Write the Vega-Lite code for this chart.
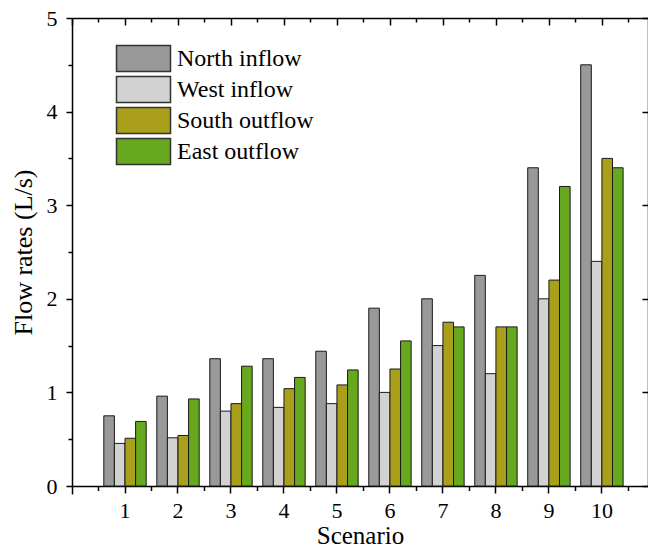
{
  "$schema": "https://vega.github.io/schema/vega-lite/v6.json",
  "autosize": {"type": "none"},
  "padding": {"left": 72, "top": 18, "right": 0, "bottom": 64},
  "width": 576,
  "height": 468,
  "background": "white",
  "data": {
    "values": [
      {"Scenario": 1, "Series": "North inflow", "Flow": 0.75},
      {"Scenario": 1, "Series": "West inflow", "Flow": 0.455},
      {"Scenario": 1, "Series": "South outflow", "Flow": 0.51},
      {"Scenario": 1, "Series": "East outflow", "Flow": 0.69},
      {"Scenario": 2, "Series": "North inflow", "Flow": 0.96},
      {"Scenario": 2, "Series": "West inflow", "Flow": 0.515},
      {"Scenario": 2, "Series": "South outflow", "Flow": 0.54},
      {"Scenario": 2, "Series": "East outflow", "Flow": 0.93},
      {"Scenario": 3, "Series": "North inflow", "Flow": 1.36},
      {"Scenario": 3, "Series": "West inflow", "Flow": 0.8},
      {"Scenario": 3, "Series": "South outflow", "Flow": 0.88},
      {"Scenario": 3, "Series": "East outflow", "Flow": 1.28},
      {"Scenario": 4, "Series": "North inflow", "Flow": 1.36},
      {"Scenario": 4, "Series": "West inflow", "Flow": 0.84},
      {"Scenario": 4, "Series": "South outflow", "Flow": 1.04},
      {"Scenario": 4, "Series": "East outflow", "Flow": 1.16},
      {"Scenario": 5, "Series": "North inflow", "Flow": 1.44},
      {"Scenario": 5, "Series": "West inflow", "Flow": 0.88},
      {"Scenario": 5, "Series": "South outflow", "Flow": 1.08},
      {"Scenario": 5, "Series": "East outflow", "Flow": 1.24},
      {"Scenario": 6, "Series": "North inflow", "Flow": 1.9},
      {"Scenario": 6, "Series": "West inflow", "Flow": 1.0},
      {"Scenario": 6, "Series": "South outflow", "Flow": 1.25},
      {"Scenario": 6, "Series": "East outflow", "Flow": 1.55},
      {"Scenario": 7, "Series": "North inflow", "Flow": 2.0},
      {"Scenario": 7, "Series": "West inflow", "Flow": 1.5},
      {"Scenario": 7, "Series": "South outflow", "Flow": 1.75},
      {"Scenario": 7, "Series": "East outflow", "Flow": 1.7},
      {"Scenario": 8, "Series": "North inflow", "Flow": 2.25},
      {"Scenario": 8, "Series": "West inflow", "Flow": 1.2},
      {"Scenario": 8, "Series": "South outflow", "Flow": 1.7},
      {"Scenario": 8, "Series": "East outflow", "Flow": 1.7},
      {"Scenario": 9, "Series": "North inflow", "Flow": 3.4},
      {"Scenario": 9, "Series": "West inflow", "Flow": 2.0},
      {"Scenario": 9, "Series": "South outflow", "Flow": 2.2},
      {"Scenario": 9, "Series": "East outflow", "Flow": 3.2},
      {"Scenario": 10, "Series": "North inflow", "Flow": 4.5},
      {"Scenario": 10, "Series": "West inflow", "Flow": 2.4},
      {"Scenario": 10, "Series": "South outflow", "Flow": 3.5},
      {"Scenario": 10, "Series": "East outflow", "Flow": 3.4}
    ]
  },
  "layer": [
    {
      "mark": {"type": "bar", "stroke": "#1a1a1a", "strokeWidth": 1},
      "encoding": {
        "x": {
          "field": "Scenario", "type": "ordinal",
          "scale": {"type": "band", "paddingInner": 0.2, "paddingOuter": 0.535, "align": 0.561},
          "axis": {"orient": "bottom", "labelAngle": 0, "tickSize": 7, "labelPadding": 7, "labelFont": "Liberation Serif", "labelFontSize": 22, "title": "Scenario", "titleFont": "Liberation Serif", "titleFontSize": 25, "titlePadding": 2}
        },
        "xOffset": {
          "field": "Series", "type": "nominal",
          "sort": ["North inflow", "West inflow", "South outflow", "East outflow"]
        },
        "y": {
          "field": "Flow", "type": "quantitative",
          "scale": {"domain": [0, 5], "nice": false, "zero": true},
          "axis": {
            "orient": "left",
            "values": [0, 0.5, 1, 1.5, 2, 2.5, 3, 3.5, 4, 4.5, 5],
            "labelExpr": "datum.value % 1 === 0 ? format(datum.value, 'd') : ''",
            "tickSize": {"condition": {"test": "datum.value % 1 === 0", "value": 6}, "value": 4},
            "labelPadding": 9, "labelFont": "Liberation Serif", "labelFontSize": 22,
            "title": "Flow rates (L/s)", "titleFont": "Liberation Serif", "titleFontSize": 26, "titlePadding": 10
          }
        },
        "color": {
          "field": "Series", "type": "nominal",
          "scale": {
            "domain": ["North inflow", "West inflow", "South outflow", "East outflow"],
            "range": ["#999999", "#d2d2d2", "#a99f1b", "#66a81e"]
          },
          "legend": {
            "orient": "none", "legendX": 57, "legendY": 26,
            "title": null,
            "symbolType": "M-2,-0.96H2V0.96H-2Z",
            "symbolSize": 729,
            "symbolStrokeColor": "#333333",
            "symbolStrokeWidth": 1.5,
            "symbolOpacity": 1,
            "labelFont": "Liberation Serif",
            "labelFontSize": 24,
            "labelColor": "black",
            "labelOffset": 19,
            "rowPadding": -3
          }
        }
      }
    },
    {
      "mark": {"type": "point", "opacity": 0},
      "encoding": {
        "x": {
          "field": "Scenario", "type": "quantitative",
          "scale": {"domain": [0, 10.868], "nice": false, "zero": false},
          "axis": {
            "orient": "bottom", "values": [0, 0.5, 1.5, 2.5, 3.5, 4.5, 5.5, 6.5, 7.5, 8.5, 9.5, 10.5],
            "labels": false, "domain": false, "title": null,
            "tickSize": {"condition": {"test": "datum.value === 0", "value": 8}, "value": 4.5}
          }
        },
        "y": {
          "field": "Flow", "type": "quantitative",
          "axis": {"orient": "right", "values": [0, 1, 2, 3, 4, 5], "labels": false, "tickSize": -6, "domain": true, "title": null}
        }
      }
    },
    {
      "mark": {"type": "point", "opacity": 0},
      "encoding": {
        "x": {
          "field": "Scenario", "type": "quantitative",
          "scale": {"domain": [0, 10.868], "nice": false, "zero": false},
          "axis": {
            "orient": "top",
            "values": [0, 0.5, 1, 1.5, 2, 2.5, 3, 3.5, 4, 4.5, 5, 5.5, 6, 6.5, 7, 7.5, 8, 8.5, 9, 9.5, 10, 10.5],
            "labels": false, "domain": true, "title": null,
            "tickSize": {"condition": {"test": "datum.value % 1 === 0", "value": -7}, "value": -4}
          }
        },
        "y": {"field": "Flow", "type": "quantitative", "axis": null}
      }
    }
  ],
  "resolve": {
    "scale": {"x": "independent", "xOffset": "independent"},
    "axis": {"x": "independent", "y": "independent"}
  },
  "config": {
    "view": {"stroke": null},
    "axis": {
      "grid": false,
      "labelFont": "Liberation Serif",
      "titleFont": "Liberation Serif",
      "labelColor": "black",
      "titleColor": "black",
      "titleFontWeight": "normal",
      "domainColor": "black",
      "tickColor": "black",
      "domainWidth": 1.5,
      "tickWidth": 1.5
    }
  }
}
